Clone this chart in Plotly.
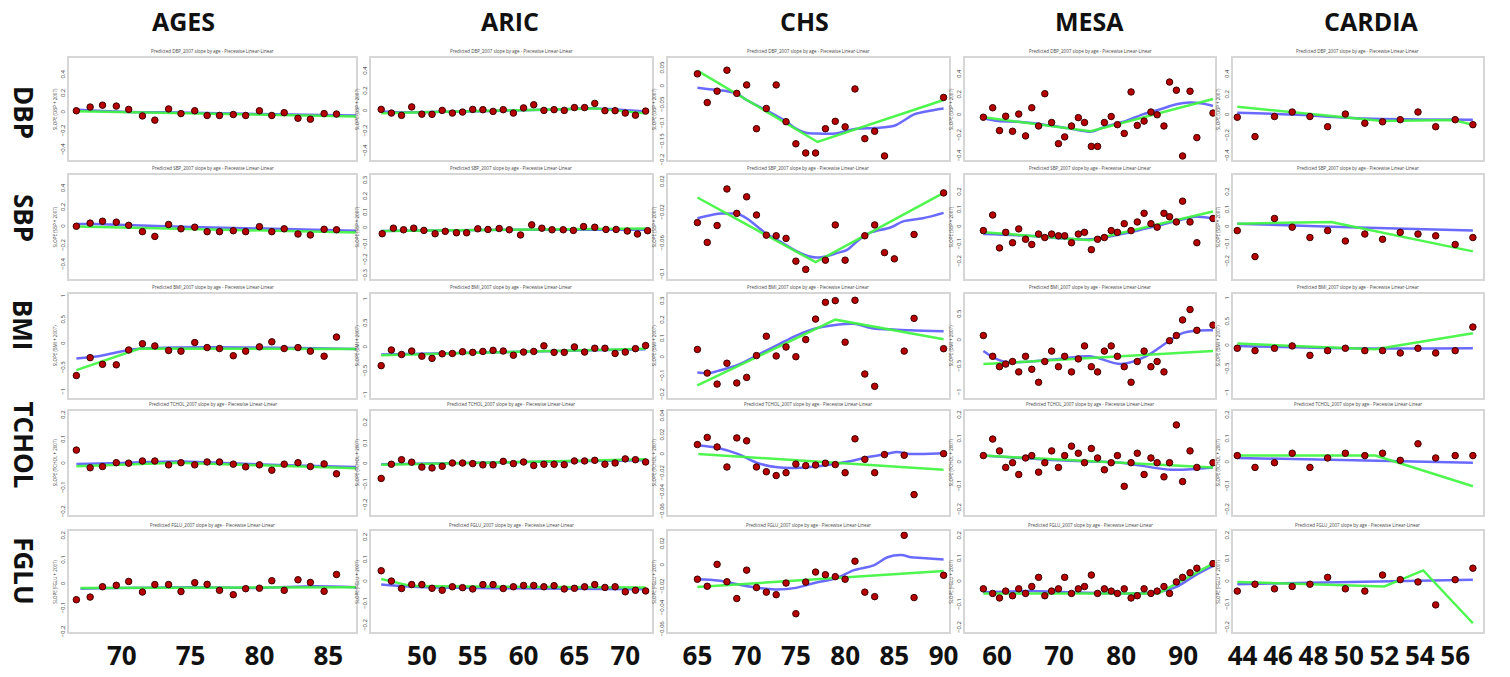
import plotly.graph_objects as go

W, H = 1510, 677
COHORTS = ["AGES", "ARIC", "CHS", "MESA", "CARDIA"]
MEASURES = ["DBP", "SBP", "BMI", "TCHOL", "FGLU"]

# ---------------- data ----------------
AGES_AGE = [66.7, 67.7, 68.6, 69.6, 70.5, 71.5, 72.4, 73.4, 74.3, 75.3, 76.2,
            77.1, 78.1, 79.0, 80.0, 80.9, 81.8, 82.8, 83.7, 84.7, 85.6]
ARIC_AGE = [46, 47, 48, 49, 50, 51, 52, 53, 54, 55, 56, 57, 58, 59, 60, 61, 62,
            63, 64, 65, 66, 67, 68, 69, 70, 71, 72]
ARIC_AGE_SBP = [46.1, 47.2, 48.2, 49.2, 50.2, 51.3, 52.3, 53.4, 54.4, 55.5, 56.5,
                57.6, 58.6, 59.7, 60.8, 61.8, 62.8, 63.9, 64.9, 65.9, 67.0, 68.1,
                69.1, 70.2, 71.2, 72.2]
CHS_AGE = {
    "DBP": [65, 66, 67, 68, 69, 70, 71, 72, 73, 74, 75, 76, 77, 78, 79, 80, 81, 82, 83, 84, 90],
    "SBP": [65, 66, 67, 68, 69, 70, 71, 72, 73, 74, 75, 76, 78, 79, 80, 82, 83, 84, 85, 87, 90],
    "BMI": [65, 66, 67, 68, 69, 70, 71, 72, 73, 74, 75, 76, 77, 78, 79, 80, 81, 82, 83, 86, 87, 90],
    "TCHOL": [65, 66, 67, 68, 69, 70, 71, 72, 73, 74, 75, 76, 77, 78, 79, 80, 81, 82, 83, 84, 86, 87, 90],
    "FGLU": [65, 66, 67, 68, 69, 70, 71, 72, 73, 74, 75, 76, 77, 78, 79, 80, 81, 82, 83, 86, 87, 90],
}
MESA_AGE = [57.8, 59.3, 60.4, 61.4, 62.5, 63.5, 64.6, 65.6, 66.7, 67.7, 68.8, 69.9,
            70.9, 72.0, 73.1, 74.1, 75.2, 76.2, 77.3, 78.4, 79.4, 80.5, 81.6, 82.6,
            83.7, 84.8, 85.8, 86.9, 87.8, 88.9, 89.9, 91.1, 92.2, 94.8]
CARDIA_AGE = [43.7, 44.7, 45.8, 46.8, 47.8, 48.8, 49.8, 50.9, 51.9, 52.9, 53.9,
              54.9, 56.0, 57.0]

DBP_OBS = {
    "AGES": [0.02, 0.06, 0.08, 0.07, 0.035, -0.035, -0.08, 0.04, -0.01, 0.02, -0.03,
             -0.03, -0.02, -0.03, 0.02, -0.03, 0.0, -0.06, -0.07, -0.01, -0.015],
    "ARIC": [0.02, -0.017, -0.04, 0.045, -0.028, -0.03, 0.01, -0.017, -0.007, 0.02,
             0.017, 0.0, 0.017, -0.017, 0.035, 0.066, 0.01, 0.017, 0.01, 0.038, 0.038,
             0.08, 0.007, 0.007, -0.017, -0.038, 0.003],
    "CHS": [0.035, -0.043, -0.012, 0.045, -0.018, 0.005, -0.114, -0.059, 0.005, -0.095,
            -0.155, -0.18, -0.18, -0.114, -0.094, -0.109, -0.006, -0.141, -0.121, -0.188,
            -0.029],
    "MESA": [-0.017, 0.076, -0.148, -0.007, -0.155, 0.014, -0.2, 0.076, -0.103, 0.214,
             -0.069, -0.276, -0.21, -0.103, -0.021, -0.069, -0.303, -0.303, -0.069, -0.01,
             -0.09, -0.176, 0.231, -0.097, -0.055, 0.034, 0.007, -0.103, 0.328, 0.248,
             -0.397, 0.238, -0.217, 0.024],
    "CARDIA": [-0.017, -0.207, -0.01, 0.034, -0.01, -0.11, 0.014, -0.076, -0.062,
               -0.041, 0.034, -0.11, -0.041, -0.09],
}
SBP_OBS = {
    "AGES": [0.007, 0.04, 0.06, 0.05, 0.017, -0.05, -0.1, 0.025, -0.02, -0.003, -0.05,
             -0.05, -0.04, -0.05, 0.003, -0.05, -0.02, -0.075, -0.085, -0.025, -0.03],
    "ARIC": [-0.033, 0.002, -0.008, 0.002, -0.012, -0.033, -0.018, -0.027, -0.027,
             -0.002, -0.006, 0.0, -0.008, -0.041, 0.023, 0.002, -0.008, -0.008, -0.012,
             0.012, 0.008, -0.006, -0.006, -0.016, -0.035, -0.014],
    "CHS": [-0.0326, -0.0583, -0.0364, 0.0111, -0.0206, 0.0009, -0.0227, -0.0489,
            -0.0497, -0.0531, -0.0827, -0.0934, -0.0814, -0.0356, -0.0814, -0.0497,
            -0.0356, -0.0716, -0.0797, -0.048, 0.006],
    "MESA": [-0.02, 0.07, -0.12, -0.03, -0.09, -0.01, -0.07, -0.1, -0.04, -0.06, -0.04,
             -0.05, -0.05, -0.09, -0.04, -0.03, -0.13, -0.07, -0.06, -0.02, -0.03, 0.02,
             -0.02, 0.03, 0.08, 0.02, 0.0, 0.08, 0.06, 0.03, 0.15, 0.03, -0.09, 0.05],
    "CARDIA": [-0.02, -0.17, 0.05, 0.0, -0.06, -0.02, -0.08, -0.04, -0.07, -0.03,
               -0.04, -0.05, -0.1, -0.06],
}
BMI_OBS = {
    "AGES": [-0.655, -0.28, -0.42, -0.43, -0.12, 0.01, -0.035, -0.13, -0.145, 0.035,
             -0.07, -0.09, -0.24, -0.145, -0.055, 0.05, -0.09, -0.07, -0.145, -0.25, 0.15],
    "ARIC": [-0.377, -0.05, -0.145, -0.072, -0.18, -0.225, -0.13, -0.123, -0.087, -0.1,
             -0.08, -0.058, -0.072, -0.16, -0.094, -0.08, 0.036, -0.1, -0.1, 0.014,
             -0.094, -0.014, -0.014, -0.123, -0.094, -0.022, 0.043],
    "CHS": [0.044, -0.083, -0.142, -0.03, -0.136, -0.106, 0.011, 0.115, 0.009, 0.057,
            0.005, 0.097, 0.207, 0.297, 0.306, 0.083, 0.308, -0.088, -0.154, 0.035, 0.211,
            0.048],
    "MESA": [0.1, -0.3, -0.5, -0.45, -0.4, -0.6, -0.3, -0.55, -0.8, -0.4, -0.2, -0.5,
             -0.3, -0.6, -0.35, -0.1, -0.5, -0.6, -0.2, -0.1, -0.3, -0.5, -0.8, -0.4,
             -0.2, -0.5, -0.4, -0.6, 0.0, 0.1, 0.4, 0.6, 0.2, 0.3],
    "CARDIA": [-0.05, -0.1, -0.05, 0.0, -0.2, -0.1, -0.05, -0.1, -0.1, -0.15, -0.05,
               -0.15, -0.1, 0.4],
}
TCHOL_OBS = {
    "AGES": [0.057, -0.016, -0.011, 0.005, 0.003, 0.012, 0.012, -0.004, 0.005, -0.004,
             0.008, 0.008, -0.001, -0.012, -0.004, -0.026, -0.001, 0.005, -0.011, 0.0,
             -0.041],
    "ARIC": [-0.069, 0.0, 0.022, 0.01, -0.014, -0.018, -0.01, 0.006, 0.006, 0.003,
             -0.003, -0.003, 0.014, 0.003, 0.011, -0.006, 0.0, 0.0, -0.002, 0.016, 0.016,
             0.019, 0.0, 0.006, 0.026, 0.022, 0.011],
    "CHS": [0.0105, 0.018, 0.008, -0.013, 0.0175, 0.0144, -0.013, -0.018, -0.022, -0.019,
            -0.01, -0.0116, -0.011, -0.009, -0.0105, -0.019, 0.0165, -0.005, -0.019, 0.0,
            -0.0007, -0.042, 0.001],
    "MESA": [0.03, 0.1, 0.05, -0.02, 0.0, -0.05, 0.02, 0.03, -0.04, 0.0, 0.05, -0.02,
             0.03, 0.07, 0.04, 0.0, 0.06, 0.02, -0.03, 0.0, 0.03, -0.1, 0.0, 0.04, -0.05,
             0.02, 0.0, -0.06, 0.0, 0.16, -0.08, 0.05, -0.02, 0.0],
    "CARDIA": [0.03, -0.02, 0.0, 0.04, -0.02, 0.02, 0.04, 0.03, 0.04, 0.01, 0.08, 0.02,
               0.03, 0.03],
}
FGLU_OBS = {
    "AGES": [-0.064, -0.053, -0.01, -0.004, 0.012, -0.032, -0.001, -0.001, -0.03, 0.007,
             0.0, -0.025, -0.043, -0.018, -0.016, 0.015, -0.025, 0.019, 0.008, -0.029,
             0.041],
    "ARIC": [0.051, 0.004, -0.03, -0.012, -0.012, -0.029, -0.038, -0.022, -0.026, -0.032,
             -0.012, -0.012, -0.03, -0.022, -0.016, -0.016, -0.022, -0.017, -0.032, -0.029,
             -0.022, -0.012, -0.025, -0.022, -0.045, -0.038, -0.041],
    "CHS": [-0.0127, -0.0193, 0.0012, -0.0151, -0.0308, -0.0042, -0.0205, -0.0248,
            -0.0272, -0.0163, -0.045, -0.0154, -0.006, -0.0085, -0.0103, -0.0127, 0.0042,
            -0.0248, -0.029, 0.0284, -0.0299, -0.009],
    "MESA": [-0.03, -0.05, -0.07, -0.04, -0.06, -0.03, -0.05, -0.02, 0.02, -0.06, -0.04,
             -0.03, 0.02, -0.05, -0.03, -0.02, 0.03, -0.05, -0.03, -0.04, -0.05, -0.03,
             -0.07, -0.06, -0.03, -0.05, -0.04, -0.02, -0.05, 0.0, 0.02, 0.04, 0.06, 0.08],
    "CARDIA": [-0.04, -0.01, -0.03, -0.02, -0.01, 0.02, -0.03, -0.04, 0.03, 0.01, 0.0,
               -0.1, 0.01, 0.06],
}

# smooth (blue) and piecewise linear (green) fits: [ages], [values]
DBP_SMOOTH = {
    "AGES": ([66.7, 70, 75, 80, 87], [0.03, 0.01, 0.0, -0.015, -0.03]),
    "ARIC": ([46, 48, 52, 56, 60, 64, 67, 69, 72], [0.0, -0.008, -0.004, 0.002, 0.012, 0.022, 0.03, 0.02, 0.0]),
    "CHS": ([65, 66, 68, 69, 70, 72, 74, 75, 76, 77, 79, 81, 83, 85, 86, 87, 90],
            [-0.003, -0.006, -0.012, -0.018, -0.036, -0.064, -0.094, -0.114, -0.125, -0.127,
             -0.127, -0.115, -0.112, -0.106, -0.091, -0.075, -0.059]),
    "MESA": ([57.8, 60.2, 63.4, 67.6, 71.4, 75.1, 77.2, 80.4, 83.6, 86.2, 88.9, 91.0, 93.1, 94.8],
             [-0.028, -0.055, -0.062, -0.09, -0.124, -0.159, -0.114, -0.062, 0.014, 0.059, 0.11,
              0.128, 0.117, 0.093]),
    "CARDIA": ([43.7, 46.8, 50.9, 57.0], [0.028, 0.01, -0.03, -0.041]),
}
DBP_PIECE = {
    "AGES": ([66.7, 87], [0.015, -0.04]),
    "ARIC": ([46, 67, 72], [-0.02, 0.03, -0.02]),
    "CHS": ([65, 77.2, 90], [0.044, -0.15, -0.036]),
    "MESA": ([57.8, 75.1, 94.8], [-0.017, -0.155, 0.162]),
    "CARDIA": ([43.7, 51.9, 55.9, 57.0], [0.086, -0.055, -0.045, -0.09]),
}
SBP_SMOOTH = {
    "AGES": ([66.7, 68, 75, 87], [0.03, 0.03, 0.0, -0.04]),
    "ARIC": ([46, 59, 72], [-0.016, -0.008, -0.008]),
    "CHS": ([65, 67.1, 68.1, 69.1, 70.1, 71.1, 72.1, 73.1, 75.1, 76.2, 77.1, 78.2, 79.2,
             80.2, 81.2, 82.5, 84.6, 85.9, 87.9, 90],
            [-0.027, -0.021, -0.021, -0.021, -0.028, -0.038, -0.048, -0.055, -0.07, -0.076,
             -0.078, -0.076, -0.072, -0.068, -0.057, -0.046, -0.039, -0.031, -0.027, -0.02]),
    "MESA": ([57.8, 65, 75, 85, 92, 94.8], [-0.04, -0.05, -0.07, 0.0, 0.06, 0.05]),
    "CARDIA": ([43.7, 50, 57.0], [0.02, 0.0, -0.02]),
}
SBP_PIECE = {
    "AGES": ([66.7, 87], [0.005, -0.06]),
    "ARIC": ([46, 72], [-0.016, 0.0]),
    "CHS": ([65, 77.0, 90], [0.0, -0.084, 0.006]),
    "MESA": ([57.8, 75, 94.8], [-0.03, -0.075, 0.09]),
    "CARDIA": ([43.7, 49.0, 57.0], [0.02, 0.03, -0.14]),
}
BMI_SMOOTH = {
    "AGES": ([66.7, 68.5, 71.1, 87], [-0.3, -0.24, -0.1, -0.1]),
    "ARIC": ([46, 72], [-0.145, -0.036]),
    "CHS": ([65, 66.1, 67.1, 69.1, 71.1, 73.1, 75.1, 77.2, 79.2, 80.9, 82.9, 84.6, 86.6, 90],
            [-0.08, -0.083, -0.071, -0.039, 0.014, 0.067, 0.12, 0.159, 0.177, 0.182, 0.156,
             0.152, 0.147, 0.142]),
    "MESA": ([57.8, 61, 70, 75, 80, 84, 90, 94.8], [-0.2, -0.4, -0.35, -0.3, -0.45, -0.3, 0.15, 0.2]),
    "CARDIA": ([43.7, 50, 57.0], [0.0, -0.05, -0.05]),
}
BMI_PIECE = {
    "AGES": ([66.7, 71.3, 87], [-0.54, -0.09, -0.1]),
    "ARIC": ([46, 72], [-0.16, -0.022]),
    "CHS": ([65, 79.0, 90], [-0.149, 0.204, 0.099]),
    "MESA": ([57.8, 94.8], [-0.45, -0.2]),
    "CARDIA": ([43.7, 51.5, 57.0], [0.05, -0.07, 0.27]),
}
TCHOL_SMOOTH = {
    "AGES": ([66.7, 70, 74, 78, 82, 87], [0.0, 0.004, 0.01, 0.003, -0.006, -0.013]),
    "ARIC": ([46, 72], [0.0, 0.019]),
    "CHS": ([65.1, 67.1, 69.1, 71.1, 73.1, 75.1, 77.1, 79.1, 80.5, 81.9, 83.9, 85.2, 86.6, 87.9, 90],
            [0.0095, 0.007, 0.0007, -0.0088, -0.0133, -0.014, -0.0123, -0.0095, -0.007,
             -0.0035, 0.0, 0.0028, 0.0007, 0.0007, 0.0014]),
    "MESA": ([57.8, 70, 80, 88, 94.8], [0.03, 0.01, 0.0, -0.03, -0.02]),
    "CARDIA": ([43.7, 57.0], [0.02, 0.0]),
}
TCHOL_PIECE = {
    "AGES": ([66.7, 74, 87], [-0.01, 0.005, -0.018]),
    "ARIC": ([46, 72], [-0.003, 0.024]),
    "CHS": ([65.1, 90], [0.0007, -0.0158]),
    "MESA": ([57.8, 94.8], [0.03, -0.02]),
    "CARDIA": ([43.7, 51.5, 57.0], [0.03, 0.03, -0.1]),
}
FGLU_SMOOTH = {
    "AGES": ([67, 75, 80, 84, 87], [-0.018, -0.012, -0.015, -0.008, -0.012]),
    "ARIC": ([46, 49, 72], [-0.012, -0.022, -0.033]),
    "CHS": ([65, 67.1, 69.1, 71.2, 72.9, 75, 77.1, 79.1, 80.9, 82.9, 84.3, 85.7, 86.7, 87.8, 90],
            [-0.0127, -0.0139, -0.0175, -0.0208, -0.0223, -0.0208, -0.0157, -0.0118,
             -0.0042, 0.0003, 0.0079, 0.01, 0.0079, 0.0072, 0.0057]),
    "MESA": ([57.8, 65, 72, 80, 86, 89, 92, 94.8], [-0.045, -0.04, -0.045, -0.05, -0.045, -0.02, 0.03, 0.07]),
    "CARDIA": ([43.7, 57.0], [-0.01, 0.01]),
}
FGLU_PIECE = {
    "AGES": ([67, 87], [-0.015, -0.012]),
    "ARIC": ([46, 49, 72], [0.013, -0.019, -0.025]),
    "CHS": ([65, 90], [-0.0199, -0.0051]),
    "MESA": ([57.8, 86, 94.8], [-0.05, -0.05, 0.08]),
    "CARDIA": ([43.7, 52, 54.2, 57.0], [0.0, -0.02, 0.05, -0.18]),
}

OBS = {"DBP": DBP_OBS, "SBP": SBP_OBS, "BMI": BMI_OBS, "TCHOL": TCHOL_OBS, "FGLU": FGLU_OBS}
SMOOTH = {"DBP": DBP_SMOOTH, "SBP": SBP_SMOOTH, "BMI": BMI_SMOOTH, "TCHOL": TCHOL_SMOOTH, "FGLU": FGLU_SMOOTH}
PIECE = {"DBP": DBP_PIECE, "SBP": SBP_PIECE, "BMI": BMI_PIECE, "TCHOL": TCHOL_PIECE, "FGLU": FGLU_PIECE}

X_TICKS = {"AGES": [70, 75, 80, 85], "ARIC": [50, 55, 60, 65, 70],
           "CHS": [65, 70, 75, 80, 85, 90], "MESA": [60, 70, 80, 90],
           "CARDIA": [44, 46, 48, 50, 52, 54, 56]}

Y_TICKS = {
    "DBP": {"AGES": [-0.4, -0.2, 0, 0.2, 0.4], "ARIC": [-0.4, -0.2, 0, 0.2, 0.4],
            "CHS": [-0.2, -0.15, -0.1, -0.05, 0, 0.05], "MESA": [-0.4, -0.2, 0, 0.2, 0.4],
            "CARDIA": [-0.4, -0.2, 0, 0.2, 0.4]},
    "SBP": {"AGES": [-0.4, -0.2, 0, 0.2, 0.4], "ARIC": [-0.3, -0.2, -0.1, 0, 0.1, 0.2, 0.3],
            "CHS": [-0.1, -0.06, -0.02, 0.02], "MESA": [-0.2, -0.1, 0, 0.1, 0.2],
            "CARDIA": [-0.2, -0.1, 0, 0.1, 0.2]},
    "BMI": {"AGES": [-1, -0.5, 0, 0.5, 1], "ARIC": [-1, -0.5, 0, 0.5, 1],
            "CHS": [-0.2, -0.1, 0, 0.1, 0.2, 0.3], "MESA": [-1, -0.5, 0, 0.5],
            "CARDIA": [-1, -0.5, 0, 0.5, 1]},
    "TCHOL": {"AGES": [-0.2, -0.1, 0, 0.1, 0.2], "ARIC": [-0.2, -0.1, 0, 0.1, 0.2],
              "CHS": [-0.06, -0.04, -0.02, 0, 0.02, 0.04], "MESA": [-0.2, -0.1, 0, 0.1, 0.2],
              "CARDIA": [-0.2, -0.1, 0, 0.1, 0.2]},
    "FGLU": {"AGES": [-0.2, -0.1, 0, 0.1, 0.2], "ARIC": [-0.2, -0.1, 0, 0.1, 0.2],
             "CHS": [-0.06, -0.04, -0.02, 0, 0.02], "MESA": [-0.2, -0.1, 0, 0.1, 0.2],
             "CARDIA": [-0.2, -0.1, 0, 0.1, 0.2]},
}

# ---------------- layout (pixel geometry) ----------------
COL_BOX = {"AGES": (65, 355), "ARIC": (370, 653), "CHS": (670, 953),
           "MESA": (970, 1222), "CARDIA": (1240, 1493)}
ROW_BOX = {"DBP": (57, 160), "SBP": (175, 280), "BMI": (295, 400),
           "TCHOL": (413, 518), "FGLU": (535, 637)}
X_RANGE = {"AGES": [66.19, 87.05], "ARIC": [45.03, 72.58], "CHS": [62.05, 90.5],
           "MESA": [54.9, 95.1], "CARDIA": [43.44, 57.58]}
Y_RANGE = {
    "DBP": {"AGES": [-0.51, 0.58], "ARIC": [-0.49, 0.53], "CHS": [-0.2, 0.077],
            "MESA": [-0.44, 0.56], "CARDIA": [-0.44, 0.56]},
    "SBP": {"AGES": [-0.55, 0.545], "ARIC": [-0.32, 0.337], "CHS": [-0.106, 0.029],
            "MESA": [-0.3, 0.3], "CARDIA": [-0.3, 0.3]},
    "BMI": {"AGES": [-1.12, 1.05], "ARIC": [-1.05, 1.12], "CHS": [-0.216, 0.342],
            "MESA": [-1.1, 0.9], "CARDIA": [-1.1, 1.1]},
    "TCHOL": {"AGES": [-0.21, 0.22], "ARIC": [-0.245, 0.26], "CHS": [-0.063, 0.046],
              "MESA": [-0.22, 0.22], "CARDIA": [-0.22, 0.22]},
    "FGLU": {"AGES": [-0.2, 0.22], "ARIC": [-0.23, 0.23], "CHS": [-0.0625, 0.032],
             "MESA": [-0.22, 0.22], "CARDIA": [-0.22, 0.22]},
}
COL_TITLE_X = {"AGES": 180, "ARIC": 510, "CHS": 808, "MESA": 1095, "CARDIA": 1380}
ROW_LABEL_Y = {"DBP": 112, "SBP": 218, "BMI": 327, "TCHOL": 448, "FGLU": 575}


def ages_for(measure, cohort):
    if cohort == "AGES":
        return AGES_AGE
    if cohort == "ARIC":
        return ARIC_AGE_SBP if measure == "SBP" else ARIC_AGE
    if cohort == "CHS":
        return CHS_AGE[measure]
    if cohort == "MESA":
        return MESA_AGE
    return CARDIA_AGE


fig = go.Figure()
annotations = []
FONT = "Open Sans, Arial, sans-serif"
k = 0
for r, m in enumerate(MEASURES):
    for c, co in enumerate(COHORTS):
        k += 1
        xa = "x" if k == 1 else f"x{k}"
        ya = "y" if k == 1 else f"y{k}"
        xk = "xaxis" if k == 1 else f"xaxis{k}"
        yk = "yaxis" if k == 1 else f"yaxis{k}"
        x0, x1 = COL_BOX[co]
        y0, y1 = ROW_BOX[m]
        obs = OBS[m][co]
        ages = ages_for(m, co)
        sx, sy = SMOOTH[m][co]
        px, py = PIECE[m][co]
        fig.add_trace(go.Scatter(x=sx, y=sy, xaxis=xa, yaxis=ya, mode="lines",
                                 line=dict(color="rgba(80,80,255,0.85)", width=2.5,
                                           shape="spline", smoothing=0.9),
                                 hoverinfo="skip", showlegend=False))
        fig.add_trace(go.Scatter(x=px, y=py, xaxis=xa, yaxis=ya, mode="lines",
                                 line=dict(color="rgba(64,245,64,0.92)", width=2.5),
                                 hoverinfo="skip", showlegend=False))
        fig.add_trace(go.Scatter(x=ages, y=obs, xaxis=xa, yaxis=ya, mode="markers",
                                 marker=dict(size=6.5, color="#b80000",
                                             line=dict(color="#3a0000", width=1)),
                                 showlegend=False))
        bottom = (m == "FGLU")
        fig.layout[xk] = dict(
            domain=[x0 / W, x1 / W], anchor=ya, range=X_RANGE[co],
            showgrid=False, zeroline=False, showline=True, mirror=True,
            linecolor="#d6d6d6", linewidth=1.5,
            tickvals=X_TICKS[co] if bottom else [],
            showticklabels=bottom,
            tickfont=dict(family=FONT, size=26, color="#111", weight="bold"),
            ticks="",
        )
        fig.layout[yk] = dict(
            domain=[1 - y1 / H, 1 - y0 / H], anchor=xa, range=Y_RANGE[m][co],
            showgrid=False, zeroline=False, showline=True, mirror=True,
            linecolor="#d6d6d6", linewidth=1.5,
            tickvals=Y_TICKS[m][co], tickangle=-90,
            tickfont=dict(family=FONT, size=6, color="#333"),
            ticks="",
            title=dict(text=f"SLOPE ({m} + 2007)", font=dict(family=FONT, size=4.5, color="#444"),
                       standoff=2),
        )
        annotations.append(dict(
            text=f"Predicted {m}_2007 slope by age - Piecewise Linear-Linear",
            x=(x0 + x1) / 2 / W, y=1 - (y0 - 7) / H, xref="paper", yref="paper",
            showarrow=False, font=dict(family=FONT, size=4.5, color="#444"),
            xanchor="center", yanchor="middle"))

for co in COHORTS:
    annotations.append(dict(text=f"<b>{co}</b>", x=COL_TITLE_X[co] / W, y=1 - 19 / H,
                            xref="paper", yref="paper", showarrow=False,
                            font=dict(family=FONT, size=25, color="#111"),
                            xanchor="center", yanchor="middle"))
for m in MEASURES:
    annotations.append(dict(text=f"<b>{m}</b>", x=19 / W, y=1 - ROW_LABEL_Y[m] / H,
                            xref="paper", yref="paper", showarrow=False, textangle=90,
                            font=dict(family=FONT, size=26, color="#111"),
                            xanchor="center", yanchor="middle"))

fig.update_layout(width=W, height=H, margin=dict(l=0, r=0, t=0, b=0),
                  paper_bgcolor="white", plot_bgcolor="white",
                  annotations=annotations, showlegend=False)
fig.write_html("out.html")
